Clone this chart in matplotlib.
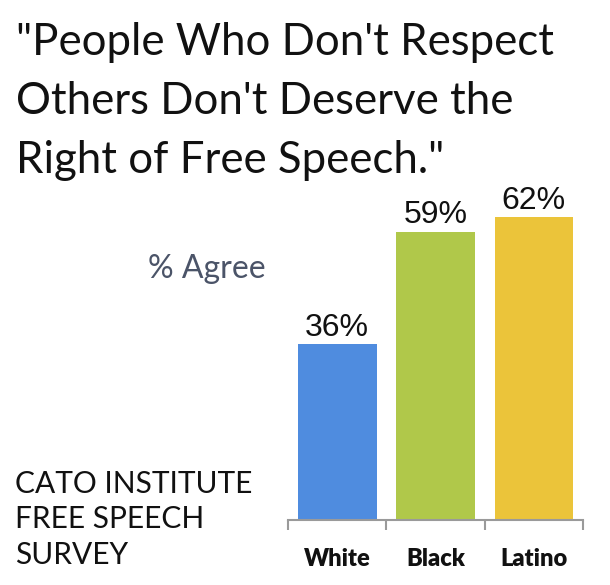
import matplotlib
matplotlib.use('Agg')
import matplotlib.pyplot as plt

# survey values
groups = ['White', 'Black', 'Latino']
agree_pct = [36, 59, 62]
bar_colors = ['#4f8cdf', '#b0c84a', '#ebc43a']

title = '"People Who Don\'t Respect\nOthers Don\'t Deserve the\nRight of Free Speech."'
source = 'CATO INSTITUTE\nFREE SPEECH\nSURVEY'

W, H = 610, 585
fig = plt.figure(figsize=(W / 100, H / 100), dpi=100)
fig.patch.set_facecolor('white')

# axes placed in pixel terms: x from 288 to 583, baseline at y=520
ax = fig.add_axes([288 / W, (H - 520) / H, 295 / W, 320 / H])
x = range(len(groups))
bars = ax.bar(x, agree_pct, width=0.8, color=bar_colors)
ax.set_xlim(-0.5, 2.5)
ax.set_ylim(0, 65.5)

for b, v in zip(bars, agree_pct):
    ax.annotate('{}%'.format(v), (b.get_x() + b.get_width() / 2, v),
                xytext=(0, 1), textcoords='offset points',
                ha='center', va='bottom', fontsize=23,
                family='Liberation Sans', color='#111111')

for s in ['top', 'right', 'left']:
    ax.spines[s].set_visible(False)
ax.spines['bottom'].set_color('#9a9a9a')
ax.spines['bottom'].set_linewidth(1.5)
ax.set_yticks([])

ax.set_xticks(list(x))
ax.set_xticklabels(groups, fontsize=17, fontweight='heavy', family='Lato')
ax.tick_params(axis='x', which='major', length=0, pad=20, labelcolor='#111111')
ax.set_xticks([-0.5, 0.5, 1.5, 2.5], minor=True)
ax.tick_params(axis='x', which='minor', length=7, width=1.5, color='#9a9a9a',
               direction='out')

fig.text(16 / W, 1 - 22 / H, title, ha='left', va='top', fontsize=31.5,
         family='Lato', linespacing=1.55, color='#111111')
fig.text(148 / W, 1 - 278 / H, '% Agree', ha='left', va='baseline',
         fontsize=23, family='Lato', color='#4b5468')
fig.text(15 / W, 1 - 470 / H, source, ha='left', va='top', fontsize=21.5,
         family='Lato', linespacing=1.32, color='#111111')

fig.savefig('out.png', dpi=100, facecolor='white')
